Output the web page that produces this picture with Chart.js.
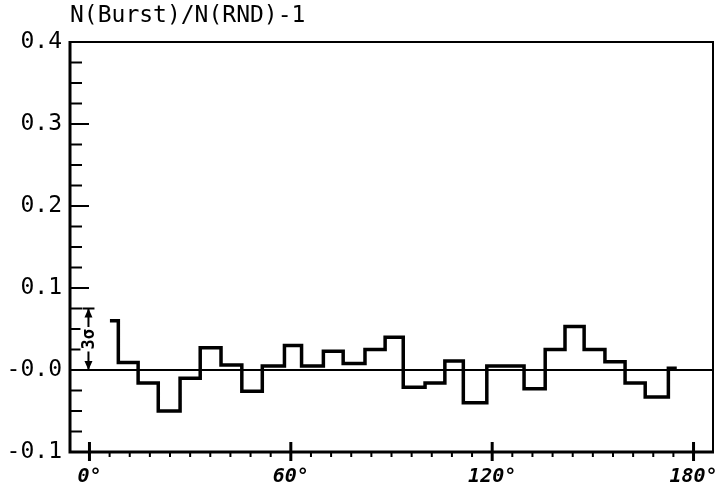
<!DOCTYPE html>
<html>
<head>
<meta charset="utf-8">
<script src="https://cdn.jsdelivr.net/npm/chart.js@4.4.0/dist/chart.umd.min.js"></script>
<style>
  html, body { margin: 0; padding: 0; background: #fff; }
</style>
</head>
<body>
<canvas id="chart" width="725" height="491"></canvas>
<script>
// bin edges (degrees) and histogram heights
const binEdges = [6.1, 8.6, 14.5, 20.5, 27.0, 33.0, 39.2, 45.4, 51.5, 58.1,
    63.2, 69.7, 75.6, 82.1, 88.1, 93.5, 100.0, 105.9, 111.4, 118.4,
    123.8, 129.5, 135.8, 141.7, 147.4, 153.6, 159.6, 165.6, 172.5, 175.0];
const binValues = [0.060, 0.009, -0.016, -0.050, -0.010, 0.027, 0.006, -0.026, 0.005,
    0.030, 0.005, 0.023, 0.008, 0.025, 0.040, -0.021, -0.016, 0.011, -0.040,
    0.005, 0.005, -0.023, 0.025, 0.053, 0.025, 0.010, -0.016, -0.033, 0.002];

const xTickValues = [0, 60, 120, 180];
const xTickLabels = ['0°', '60°', '120°', '180°'];
const yTickValues = [-0.1, 0, 0.1, 0.2, 0.3, 0.4];
const yTickLabels = ['-0.1', '-0.0', '0.1', '0.2', '0.3', '0.4'];
const sigmaSpan = [0, 0.075];   // the 3 sigma bar drawn at 0 deg

const stepPoints = binEdges.map((e, i) => ({
    x: e,
    y: binValues[Math.min(i, binValues.length - 1)]
}));

const frameAndTicks = {
    id: 'frameAndTicks',
    afterDraw(chart) {
        const { ctx, chartArea: a, scales: { x, y } } = chart;
        ctx.save();
        ctx.strokeStyle = '#000';
        ctx.lineCap = 'butt';

        // frame
        ctx.lineWidth = 2;
        ctx.beginPath();
        ctx.moveTo(a.left, a.top);
        ctx.lineTo(a.right, a.top);
        ctx.lineTo(a.right, a.bottom);
        ctx.stroke();
        ctx.lineWidth = 3;
        ctx.beginPath();
        ctx.moveTo(a.left, a.top - 1);
        ctx.lineTo(a.left, a.bottom);
        ctx.lineTo(a.right + 1, a.bottom);
        ctx.stroke();

        // zero line
        const y0 = y.getPixelForValue(0);
        ctx.lineWidth = 2;
        ctx.beginPath();
        ctx.moveTo(a.left, y0);
        ctx.lineTo(a.right, y0);
        ctx.stroke();

        // y ticks, pointing inward, every 0.025
        ctx.lineWidth = 2;
        for (let i = 1; i < 20; i++) {
            const py = y.getPixelForValue(-0.1 + i * 0.025);
            const len = i % 4 === 0 ? 19 : 12;
            ctx.beginPath();
            ctx.moveTo(a.left, py);
            ctx.lineTo(a.left + len, py);
            ctx.stroke();
        }

        // x ticks every 6 deg, majors cross the axis
        for (let d = 0; d <= 180; d += 6) {
            const px = x.getPixelForValue(d);
            const major = d % 60 === 0;
            ctx.lineWidth = major ? 3 : 2;
            ctx.beginPath();
            ctx.moveTo(px, a.bottom - (major ? 10 : 1));
            ctx.lineTo(px, a.bottom + (major ? 9 : 5));
            ctx.stroke();
        }

        // 3 sigma marker
        const sx = x.getPixelForValue(0) - 1;
        const sTop = y.getPixelForValue(sigmaSpan[1]);
        const sBot = y.getPixelForValue(sigmaSpan[0]);
        ctx.lineWidth = 2;
        ctx.beginPath();
        ctx.moveTo(sx, sTop);
        ctx.lineTo(sx, sBot);
        ctx.moveTo(sx - 6, sTop);
        ctx.lineTo(sx + 6, sTop);
        ctx.stroke();
        ctx.fillStyle = '#000';
        ctx.beginPath();
        ctx.moveTo(sx, sTop);
        ctx.lineTo(sx - 4, sTop + 9);
        ctx.lineTo(sx + 4, sTop + 9);
        ctx.closePath();
        ctx.moveTo(sx, sBot);
        ctx.lineTo(sx - 4, sBot - 9);
        ctx.lineTo(sx + 4, sBot - 9);
        ctx.closePath();
        ctx.fill();

        const cy = (sTop + sBot) / 2;
        ctx.translate(sx, cy);
        ctx.rotate(-Math.PI / 2);
        ctx.font = 'bold 17px "DejaVu Sans Mono"';
        ctx.textAlign = 'center';
        ctx.textBaseline = 'middle';
        const w = ctx.measureText('3σ').width;
        ctx.fillStyle = '#fff';
        ctx.fillRect(-w / 2 - 2, -8, w + 4, 16);
        ctx.fillStyle = '#000';
        ctx.fillText('3σ', 0, 1);
        ctx.restore();
    }
};

new Chart(document.getElementById('chart'), {
    type: 'line',
    data: {
        datasets: [{
            data: stepPoints,
            stepped: true,
            borderColor: '#000',
            borderWidth: 3.5,
            borderJoinStyle: 'miter',
            pointRadius: 0,
            fill: false
        }]
    },
    options: {
        responsive: false,
        animation: false,
        layout: { padding: { right: 12 } },
        plugins: {
            legend: { display: false },
            tooltip: { enabled: false },
            title: {
                display: true,
                text: 'N(Burst)/N(RND)-1',
                align: 'start',
                fullSize: false,
                color: '#000',
                font: { family: '"DejaVu Sans Mono"', size: 23, weight: 'normal' },
                padding: { top: 2, bottom: 12.4 }
            }
        },
        scales: {
            x: {
                type: 'linear',
                min: -5.8,
                max: 185.8,
                grid: { display: false },
                border: { display: false },
                afterBuildTicks: s => { s.ticks = xTickValues.map(v => ({ value: v })); },
                afterFit: s => { s.height = 39; },
                ticks: {
                    autoSkip: false,
                    maxRotation: 0,
                    padding: 5,
                    color: '#000',
                    font: { family: '"DejaVu Sans Mono"', size: 20, style: 'italic', weight: 'bold' },
                    callback: (v, i) => xTickLabels[i]
                }
            },
            y: {
                min: -0.1,
                max: 0.4,
                grid: { display: false },
                border: { display: false },
                afterBuildTicks: s => { s.ticks = yTickValues.map(v => ({ value: v })); },
                afterFit: s => { s.width = 70; },
                ticks: {
                    autoSkip: false,
                    padding: 0,
                    color: '#000',
                    font: { family: '"DejaVu Sans Mono"', size: 23 },
                    callback: (v, i) => yTickLabels[i]
                }
            }
        }
    },
    plugins: [frameAndTicks]
});
</script>
</body>
</html>
